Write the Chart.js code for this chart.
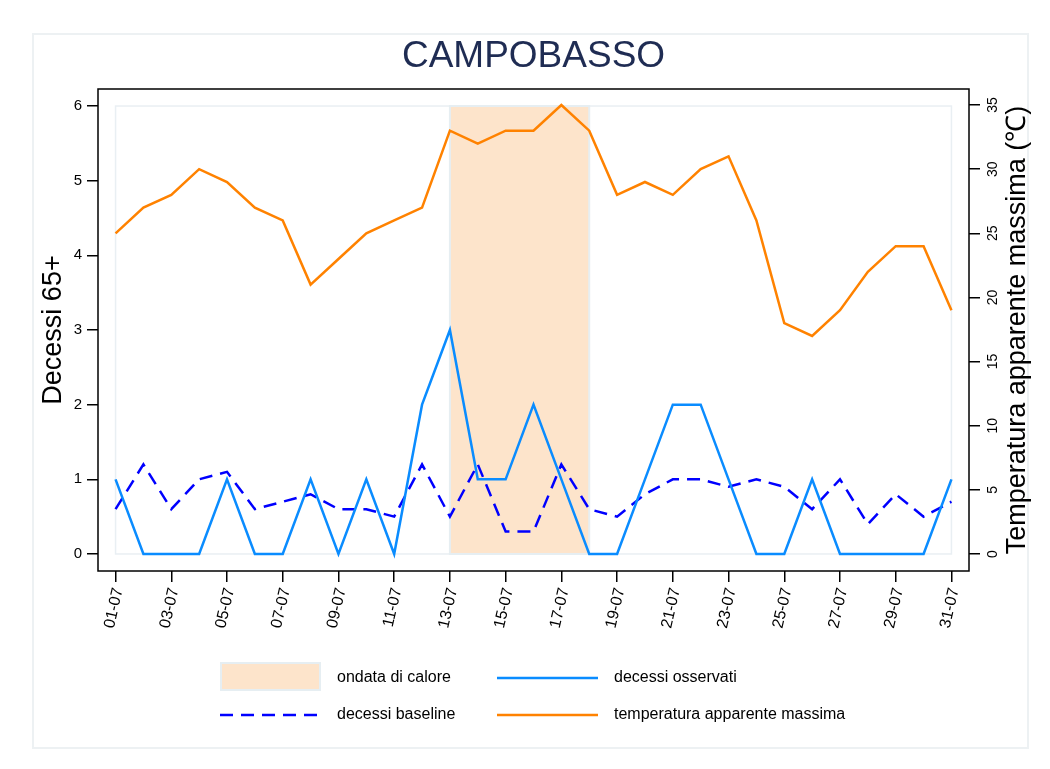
<!DOCTYPE html>
<html>
<head>
<meta charset="utf-8">
<title>CAMPOBASSO</title>
<script src="https://cdn.jsdelivr.net/npm/chart.js@4"></script>
<style>
  html, body { margin: 0; padding: 0; background: #fff; }
  #wrap { width: 1050px; height: 769px; }
</style>
</head>
<body>
<div id="wrap"><canvas id="chart" width="1050" height="769"></canvas></div>
<script>
const FONT = "'Liberation Sans', Arial, Helvetica, sans-serif";

// categories (days of July)
let days = ['01-07', '02-07', '03-07', '04-07', '05-07', '06-07', '07-07', '08-07',
    '09-07', '10-07', '11-07', '12-07', '13-07', '14-07', '15-07', '16-07', '17-07',
    '18-07', '19-07', '20-07', '21-07', '22-07', '23-07', '24-07', '25-07', '26-07',
    '27-07', '28-07', '29-07', '30-07', '31-07'];

// heat wave period
let heatWave = ['13-07', '18-07'];

// series
let observed = [1, 0, 0, 0, 1, 0, 0, 1, 0, 1, 0, 2, 3, 1, 1, 2, 1, 0, 0, 1, 2, 2, 1, 0, 0, 1, 0, 0, 0, 0, 1];
let baseline = [0.6, 1.2, 0.6, 1.0, 1.1, 0.6, 0.7, 0.8, 0.6, 0.6, 0.5, 1.2, 0.5, 1.2, 0.3, 0.3, 1.2,
    0.6, 0.5, 0.8, 1.0, 1.0, 0.9, 1.0, 0.9, 0.6, 1.0, 0.4, 0.8, 0.5, 0.7];
let tempMax = [25, 27, 28, 30, 29, 27, 26, 21, 23, 25, 26, 27, 33, 32, 33, 33, 35, 33, 28, 29, 28,
    30, 31, 26, 18, 17, 19, 22, 24, 24, 19];

// tick labels
let xTicks = ['01-07', '03-07', '05-07', '07-07', '09-07', '11-07', '13-07', '15-07',
    '17-07', '19-07', '21-07', '23-07', '25-07', '27-07', '29-07', '31-07'];
let yTicks = [0, 1, 2, 3, 4, 5, 6];
let y2Ticks = [0, 5, 10, 15, 20, 25, 30, 35];

function pos(label) {
    return days.indexOf(label) + 1;
}

function points(values) {
    return values.map(function(v, i) { return {x: i + 1, y: v}; });
}

function setTicks(list) {
    return function(scale) {
        scale.ticks = list.map(function(v) { return {value: v}; });
    };
}

const decor = {
    id: 'decor',
    beforeDraw(chart) {
        let ctx = chart.ctx;
        ctx.save();
        ctx.fillStyle = '#fff';
        ctx.fillRect(0, 0, chart.width, chart.height);
        ctx.strokeStyle = '#edf1f3';
        ctx.lineWidth = 2;
        ctx.strokeRect(33, 34, 995, 714);
        ctx.restore();
    },
    beforeDatasetsDraw(chart) {
        let ctx = chart.ctx;
        let x = chart.scales.x, y = chart.scales.y;
        let top = y.getPixelForValue(yTicks[yTicks.length - 1]);
        let bottom = y.getPixelForValue(0);
        ctx.save();
        // plot region
        let l = x.getPixelForValue(1), r = x.getPixelForValue(days.length);
        ctx.strokeStyle = '#e9eff3';
        ctx.lineWidth = 1.5;
        ctx.strokeRect(l, top, r - l, bottom - top);
        // heat wave band
        let hl = x.getPixelForValue(pos(heatWave[0]));
        let hr = x.getPixelForValue(pos(heatWave[1]));
        ctx.fillStyle = '#fde4cb';
        ctx.fillRect(hl, top, hr - hl, bottom - top);
        ctx.strokeStyle = '#e6eef2';
        ctx.lineWidth = 2;
        ctx.strokeRect(hl, top, hr - hl, bottom - top);
        ctx.restore();
    },
    afterDraw(chart) {
        let ctx = chart.ctx;
        let a = chart.chartArea;
        ctx.save();
        // axes box
        ctx.strokeStyle = '#000';
        ctx.lineWidth = 1.5;
        ctx.strokeRect(a.left, a.top, a.right - a.left, a.bottom - a.top);

        // right axis title (reads bottom to top)
        ctx.fillStyle = '#000';
        ctx.font = '27px ' + FONT;
        ctx.textAlign = 'center';
        ctx.textBaseline = 'middle';
        ctx.translate(1018, (a.top + a.bottom) / 2);
        ctx.rotate(-Math.PI / 2);
        ctx.fillText('Temperatura apparente massima (\u2103)', 0, 0);
        ctx.setTransform(1, 0, 0, 1, 0, 0);

        // legend
        ctx.font = '16px ' + FONT;
        ctx.textAlign = 'left';
        ctx.textBaseline = 'middle';
        ctx.fillStyle = '#fde4cb';
        ctx.fillRect(221, 663, 99, 27);
        ctx.strokeStyle = '#e6eef2';
        ctx.lineWidth = 2;
        ctx.strokeRect(221, 663, 99, 27);
        ctx.fillStyle = '#000';
        ctx.fillText('ondata di calore', 337, 678);

        ctx.lineWidth = 2.5;
        ctx.strokeStyle = '#0000ff';
        ctx.setLineDash([13, 8]);
        ctx.beginPath(); ctx.moveTo(220, 715); ctx.lineTo(321, 715); ctx.stroke();
        ctx.setLineDash([]);
        ctx.fillText('decessi baseline', 337, 715);

        ctx.strokeStyle = '#0a8cff';
        ctx.beginPath(); ctx.moveTo(497, 678); ctx.lineTo(598, 678); ctx.stroke();
        ctx.fillText('decessi osservati', 614, 678);

        ctx.strokeStyle = '#ff8200';
        ctx.beginPath(); ctx.moveTo(497, 715); ctx.lineTo(598, 715); ctx.stroke();
        ctx.fillText('temperatura apparente massima', 614, 715);
        ctx.restore();
    }
};

let config = {
    type: 'line',
    data: {
        datasets: [
            {
                label: 'decessi osservati',
                data: points(observed),
                yAxisID: 'y',
                borderColor: '#0a8cff',
                borderWidth: 2.5,
                pointRadius: 0,
                tension: 0
            },
            {
                label: 'decessi baseline',
                data: points(baseline),
                yAxisID: 'y',
                borderColor: '#0000ff',
                borderWidth: 2.5,
                borderDash: [13, 8],
                pointRadius: 0,
                tension: 0
            },
            {
                label: 'temperatura apparente massima',
                data: points(tempMax),
                yAxisID: 'y2',
                borderColor: '#ff8200',
                borderWidth: 2.5,
                pointRadius: 0,
                tension: 0
            }
        ]
    },
    options: {
        responsive: false,
        animation: false,
        layout: {padding: 0},
        plugins: {
            legend: {display: false},
            tooltip: {enabled: false},
            title: {
                display: true,
                fullSize: false,
                text: 'CAMPOBASSO',
                color: '#1f2c53',
                font: {family: FONT, size: 37, weight: 'normal', lineHeight: 1.2},
                padding: {top: 35, bottom: 9.6}
            }
        },
        scales: {
            x: {
                type: 'linear',
                min: 0.37,
                max: 31.63,
                afterBuildTicks: setTicks(xTicks.map(pos)),
                afterFit: function(s) { s.height = 198; },
                border: {display: false},
                grid: {drawOnChartArea: false, drawTicks: true, tickLength: 11, tickColor: '#000', lineWidth: 1.5},
                ticks: {
                    autoSkip: false,
                    minRotation: 77,
                    maxRotation: 77,
                    padding: 4,
                    labelOffset: 3,
                    color: '#000',
                    font: {family: FONT, size: 16},
                    callback: function(v) { return days[v - 1]; }
                }
            },
            y: {
                position: 'left',
                min: -0.228,
                max: 6.228,
                afterBuildTicks: setTicks(yTicks),
                afterFit: function(s) { s.width = 98; },
                border: {display: false},
                grid: {drawOnChartArea: false, drawTicks: true, tickLength: 11, tickColor: '#000', lineWidth: 1.5},
                ticks: {padding: 5, color: '#000', font: {family: FONT, size: 15}},
                title: {
                    display: true,
                    text: 'Decessi 65+',
                    color: '#000',
                    font: {family: FONT, size: 27, lineHeight: 1.2},
                    padding: {top: 37.8, bottom: 0}
                }
            },
            y2: {
                position: 'right',
                min: -1.325,
                max: 36.25,
                afterBuildTicks: setTicks(y2Ticks),
                afterFit: function(s) { s.width = 81; },
                border: {display: false},
                grid: {drawOnChartArea: false, drawTicks: true, tickLength: 11, tickColor: '#000', lineWidth: 1.5},
                ticks: {
                    minRotation: 90,
                    maxRotation: 90,
                    crossAlign: 'center',
                    padding: 5,
                    color: '#000',
                    font: {family: FONT, size: 14}
                }
            }
        }
    },
    plugins: [decor]
};

new Chart(document.getElementById('chart'), config);
</script>
</body>
</html>
